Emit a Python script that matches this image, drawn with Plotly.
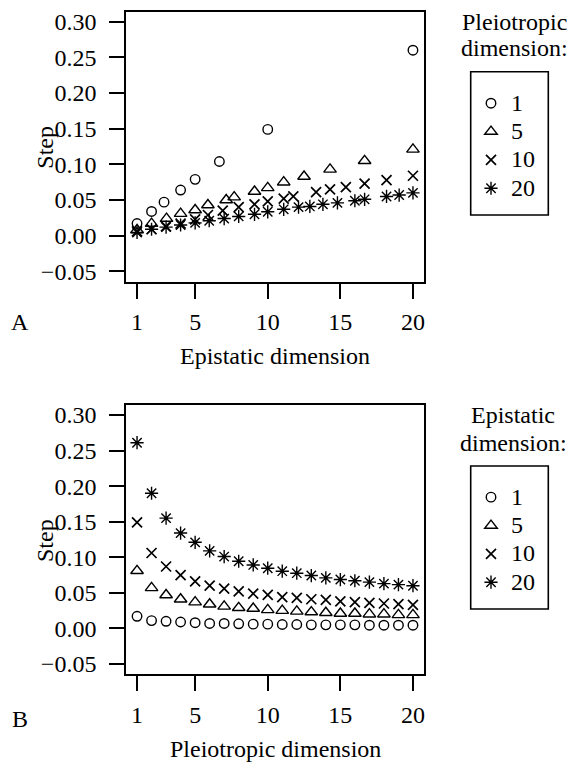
import plotly.graph_objects as go

# The page places the figure 8 px in from the top-left corner (body margin),
# so the figure is sized to fill the rest of the 579x766 window.
OFF = 8
W, H = 579 - OFF, 766 - OFF
FONT = "Liberation Serif, Times New Roman, serif"
FS = 24

# ---------------- Panel A: x = epistatic dimension, series = pleiotropic dimension
a_labels = ["1", "5", "10", "20"]
a1_x = [1, 2, 2.86, 4, 5, 6.67, 10, 20]
a1_y = [0.017, 0.034, 0.047, 0.064, 0.079, 0.104, 0.149, 0.26]
a5_x = [1, 2, 3.03, 4, 5, 5.88, 7.14, 7.69, 9.09, 10, 11.1, 12.5, 14.29, 16.67, 20]
a5_y = [0.008, 0.017, 0.024, 0.031, 0.036, 0.043, 0.050, 0.054, 0.062, 0.067, 0.075,
        0.083, 0.093, 0.105, 0.121]
a10_x = [1, 2, 2.99, 4, 5, 5.88, 6.9, 8, 9.09, 10, 11.1, 11.76, 13.33, 14.29, 15.38,
         16.67, 18.18, 20]
a10_y = [0.006, 0.009, 0.013, 0.017, 0.023, 0.029, 0.035, 0.040, 0.044, 0.048, 0.052,
         0.055, 0.061, 0.065, 0.068, 0.073, 0.078, 0.084]
a20_x = [1, 2, 3, 4, 5, 5.97, 7, 8, 9.09, 10, 11.1, 12.12, 12.9, 13.8, 14.8, 16, 16.67,
         18.18, 19.05, 20]
a20_y = [0.0045, 0.009, 0.012, 0.015, 0.018, 0.021, 0.024, 0.027, 0.030, 0.0335, 0.037,
         0.040, 0.041, 0.044, 0.046, 0.049, 0.051, 0.055, 0.057, 0.060]

# ---------------- Panel B: x = pleiotropic dimension, series = epistatic dimension
b_labels = ["1", "5", "10", "20"]
b_x = list(range(1, 21))
b1_y = [0.017, 0.011, 0.010, 0.009, 0.008, 0.007, 0.007, 0.0065, 0.006, 0.006, 0.0055,
        0.0055, 0.005, 0.005, 0.005, 0.005, 0.0045, 0.0045, 0.0045, 0.0045]
b5_y = [0.081, 0.057, 0.047, 0.041, 0.037, 0.034, 0.031, 0.029, 0.028, 0.026, 0.025,
        0.024, 0.023, 0.022, 0.021, 0.021, 0.020, 0.020, 0.019, 0.019]
b10_y = [0.149, 0.106, 0.087, 0.075, 0.066, 0.060, 0.056, 0.052, 0.049, 0.047, 0.044,
         0.043, 0.041, 0.040, 0.038, 0.037, 0.036, 0.035, 0.034, 0.033]
b20_y = [0.261, 0.190, 0.155, 0.134, 0.121, 0.109, 0.101, 0.0944, 0.0892, 0.0846, 0.0804,
         0.0776, 0.0743, 0.071, 0.0687, 0.067, 0.065, 0.063, 0.0615, 0.060]

x_ticks = [1, 5, 10, 15, 20]
y_ticks = [-0.05, 0.0, 0.05, 0.10, 0.15, 0.20, 0.25, 0.30]
y_ticktext = ["\u22120.05", "0.00", "0.05", "0.10", "0.15", "0.20", "0.25", "0.30"]

symbols = ["circle-open", "triangle-up-open", "x-thin-open", "asterisk-open"]
sizes = [9.5, 11, 10, 11]
widths = [1.4, 1.4, 1.7, 1.4]


def px_x(p):
    return (p - OFF) / W


def px_y(p):
    return 1 - (p - OFF) / H


fig = go.Figure()

a_series = [(a1_x, a1_y), (a5_x, a5_y), (a10_x, a10_y), (a20_x, a20_y)]
for (xs, ys), lab, sym, sz, lw in zip(a_series, a_labels, symbols, sizes, widths):
    fig.add_trace(go.Scatter(
        x=xs, y=ys, mode="markers", xaxis="x", yaxis="y",
        name='<span style="font-size:%dpx">%s</span>' % (FS, lab), legend="legend",
        marker=dict(symbol=sym, size=sz, color="black", line=dict(color="black", width=lw)),
    ))

b_series = [b1_y, b5_y, b10_y, b20_y]
for ys, lab, sym, sz, lw in zip(b_series, b_labels, symbols, sizes, widths):
    fig.add_trace(go.Scatter(
        x=b_x, y=ys, mode="markers", xaxis="x2", yaxis="y2",
        name='<span style="font-size:%dpx">%s</span>' % (FS, lab), legend="legend2",
        marker=dict(symbol=sym, size=sz, color="black", line=dict(color="black", width=lw)),
    ))

axis_common = dict(
    showline=True, linecolor="black", linewidth=1.6, mirror=True,
    ticks="outside", ticklen=15, tickwidth=1.6, tickcolor="black",
    showgrid=False, zeroline=False, automargin=False,
    tickfont=dict(family=FONT, size=FS, color="black"),
)

xdom = [px_x(126), px_x(424)]
fig.update_layout(
    template="none",
    width=W, height=H,
    margin=dict(l=0, r=0, t=0, b=0, pad=0, autoexpand=False),
    paper_bgcolor="white", plot_bgcolor="white",
    showlegend=True,
    xaxis=dict(domain=xdom, range=[0.24, 20.76], tickvals=x_ticks, anchor="y",
               ticklabelstandoff=3, **axis_common),
    yaxis=dict(domain=[px_y(281.7), px_y(11.7)], range=[-0.0645, 0.314], tickvals=y_ticks,
               ticktext=y_ticktext, anchor="x", ticklabelstandoff=8, **axis_common),
    xaxis2=dict(domain=xdom, range=[0.24, 20.76], tickvals=x_ticks, anchor="y2",
                ticklabelstandoff=3, **axis_common),
    yaxis2=dict(domain=[px_y(674.3), px_y(405)], range=[-0.0645, 0.314], tickvals=y_ticks,
                ticktext=y_ticktext, anchor="x2", ticklabelstandoff=8, **axis_common),
    legend=dict(x=px_x(471), y=px_y(84), xanchor="left", yanchor="top",
                bgcolor="rgba(0,0,0,0)", borderwidth=0,
                font=dict(family=FONT, size=19.5, color="black"), tracegroupgap=0),
    legend2=dict(x=px_x(471), y=px_y(478), xanchor="left", yanchor="top",
                 bgcolor="rgba(0,0,0,0)", borderwidth=0,
                 font=dict(family=FONT, size=19.5, color="black"), tracegroupgap=0),
)

shapes = []
for top, bot in [(71.7, 215), (466, 609)]:
    shapes.append(dict(type="rect", xref="paper", yref="paper",
                       x0=px_x(470.7), x1=px_x(548.3), y0=px_y(bot), y1=px_y(top),
                       line=dict(color="black", width=1.6)))
fig.update_layout(shapes=shapes)

annots = [
    ("Step", 45, 146.7, -90),
    ("Step", 45, 540, -90),
    ("Epistatic dimension", 275, 356, 0),
    ("Pleiotropic dimension", 275, 749, 0),
    ("A", 20, 322, 0),
    ("B", 20, 719, 0),
    ("Pleiotropic", 514, 22, 0),
    ("dimension:", 514, 48, 0),
    ("Epistatic", 513, 415, 0),
    ("dimension:", 513, 443, 0),
]
for text, xp, yp, ang in annots:
    fig.add_annotation(text=text, x=px_x(xp), y=px_y(yp), xref="paper", yref="paper",
                       showarrow=False, textangle=ang, xanchor="center", yanchor="middle",
                       font=dict(family=FONT, size=FS, color="black"))

fig.write_html("out.html")
